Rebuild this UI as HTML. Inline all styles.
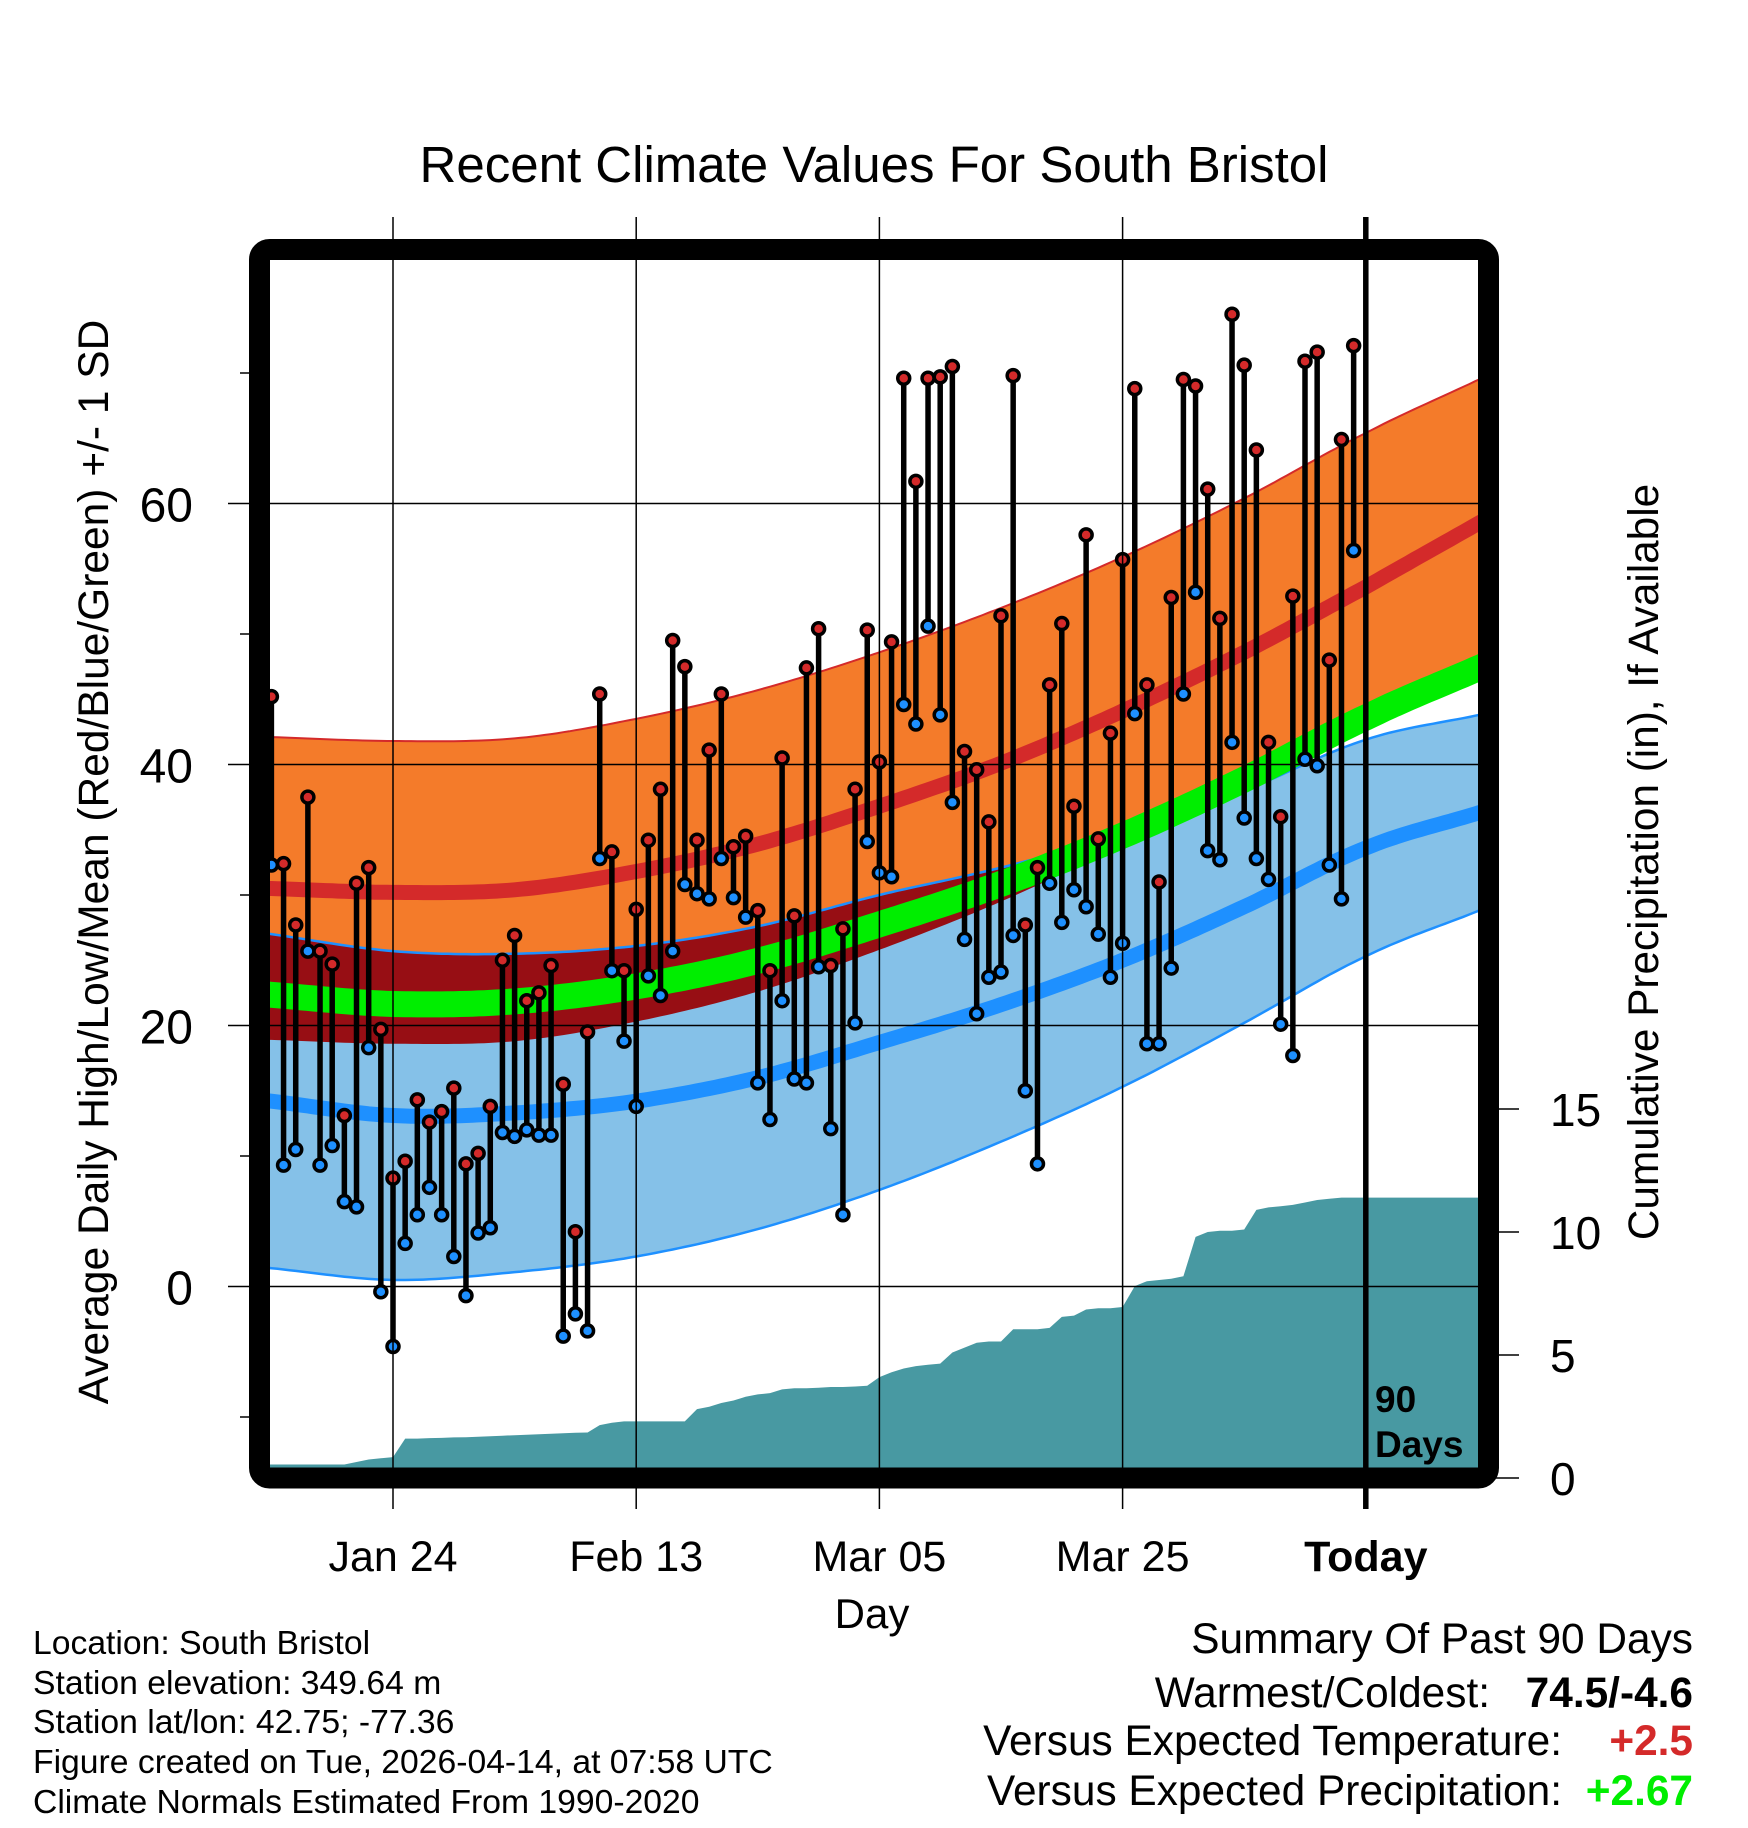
<!DOCTYPE html>
<html><head><meta charset="utf-8"><style>
html,body{margin:0;padding:0;background:#fff;}
svg{display:block;font-family:"Liberation Sans",Arial,sans-serif;}
</style></head><body>
<svg id="chart" width="1748" height="1828" viewBox="0 0 1748 1828" xmlns="http://www.w3.org/2000/svg">
<defs><clipPath id="plotclip"><rect x="270" y="260" width="1208" height="1208"/></clipPath></defs>
<text x="874" y="182" font-size="51" text-anchor="middle">Recent Climate Values For South Bristol</text>
<g id="plot" clip-path="url(#plotclip)"></g>
<g id="overlay"></g>
<text transform="translate(108,862) rotate(-90)" font-size="42.5" text-anchor="middle">Average Daily High/Low/Mean (Red/Blue/Green) +/- 1 SD</text>
<text transform="translate(1658,862) rotate(-90)" font-size="42.3" text-anchor="middle">Cumulative Precipitation (in), If Available</text>
<text x="872" y="1628" font-size="42" text-anchor="middle">Day</text>
<g font-size="33.7">
<text x="33" y="1654">Location: South Bristol</text>
<text x="33" y="1694">Station elevation: 349.64 m</text>
<text x="33" y="1733">Station lat/lon: 42.75; -77.36</text>
<text x="33" y="1773">Figure created on Tue, 2026-04-14, at 07:58 UTC</text>
<text x="33" y="1813">Climate Normals Estimated From 1990-2020</text>
</g>
<g font-size="42.4">
<text x="1693" y="1653" text-anchor="end">Summary Of Past 90 Days</text>
<text x="1490" y="1707" text-anchor="end">Warmest/Coldest:</text>
<text x="1693" y="1707" text-anchor="end" font-weight="bold">74.5/-4.6</text>
<text x="1562" y="1755" text-anchor="end">Versus Expected Temperature:</text>
<text x="1693" y="1755" text-anchor="end" font-weight="bold" fill="#d42a2a">+2.5</text>
<text x="1562" y="1805" text-anchor="end">Versus Expected Precipitation:</text>
<text x="1693" y="1805" text-anchor="end" font-weight="bold" fill="#00ee00">+2.67</text>
</g>
</svg>
<script>
const highs=[45.2,32.4,27.7,37.5,25.7,24.7,13.1,30.9,32.1,19.7,8.3,9.6,14.3,12.6,13.4,15.2,9.4,10.2,13.8,25.0,26.9,21.9,22.5,24.6,15.5,4.2,19.5,45.4,33.3,24.2,28.9,34.2,38.1,49.5,47.5,34.2,41.1,45.4,33.7,34.5,28.8,24.2,40.5,28.4,47.4,50.4,24.6,27.4,38.1,50.3,40.2,49.4,69.6,61.7,69.6,69.7,70.5,41.0,39.6,35.6,51.4,69.8,27.7,32.1,46.1,50.8,36.8,57.6,34.3,42.4,55.7,68.8,46.1,31.0,52.8,69.5,69.0,61.1,51.2,74.5,70.6,64.1,41.7,36.0,52.9,70.9,71.6,48.0,64.9,72.1];
const lows=[32.3,9.3,10.5,25.7,9.3,10.8,6.5,6.1,18.3,-0.4,-4.6,3.3,5.5,7.6,5.5,2.3,-0.7,4.1,4.5,11.8,11.5,12.0,11.6,11.6,-3.8,-2.1,-3.4,32.8,24.2,18.8,13.8,23.8,22.3,25.7,30.8,30.1,29.7,32.8,29.8,28.3,15.6,12.8,21.9,15.9,15.6,24.5,12.1,5.5,20.2,34.1,31.7,31.4,44.6,43.1,50.6,43.8,37.1,26.6,20.9,23.7,24.1,26.9,15.0,9.4,30.9,27.9,30.4,29.1,27.0,23.7,26.3,43.9,18.6,18.6,24.4,45.4,53.2,33.4,32.7,41.7,35.9,32.8,31.2,20.1,17.7,40.4,39.9,32.3,29.7,56.4];
const precip=[0.55,0.55,0.55,0.55,0.55,0.55,0.55,0.65,0.75,0.8,0.85,1.6,1.6,1.62,1.63,1.65,1.66,1.68,1.7,1.72,1.74,1.76,1.78,1.8,1.82,1.84,1.85,2.15,2.25,2.3,2.3,2.3,2.3,2.3,2.3,2.8,2.9,3.05,3.15,3.3,3.4,3.45,3.6,3.65,3.65,3.67,3.7,3.7,3.72,3.75,4.1,4.3,4.45,4.55,4.6,4.65,5.1,5.3,5.5,5.55,5.55,6.05,6.05,6.05,6.1,6.55,6.6,6.85,6.9,6.9,6.95,7.8,8.0,8.05,8.1,8.2,9.8,10.0,10.05,10.05,10.1,10.9,11.0,11.05,11.1,11.2,11.3,11.35,11.4,11.4];
const normDays=[0,10,20,30,40,50,60,70,80,90,99.3];
const highMean=[30.5,30.2,30.4,31.8,33.9,36.8,40.1,44.1,48.6,53.6,58.5];
const highUpper=[42.1,41.8,42.0,43.5,45.7,48.6,52.0,55.9,60.4,65.4,69.5];
const highLower=[18.9,18.6,18.8,20.3,22.6,25.8,29.5,33.9,38.8,44.0,48.3];
const lowMean=[14.2,13.1,13.3,14.2,16.0,18.7,21.6,25.0,29.1,33.6,36.3];
const lowSD=[12.8,12.6,12.2,11.9,11.6,11.3,10.5,9.7,8.9,8.3,7.5];
const yTicks=[0,20,40,60];
const yMinor=[-10,10,30,50,70];
const pTicks=[0,5,10,15];
const xTickDays=[10,30,50,70,90];
const xTickLabels=["Jan 24","Feb 13","Mar 05","Mar 25","Today"];

const NS="http://www.w3.org/2000/svg";
const X=d=>393+(d-10)*12.16;
const Y=t=>1286.5-13.05*t;
const P=p=>1478-24.6*p;
function mk(tag,attrs,parent){const e=document.createElementNS(NS,tag);for(const k in attrs)e.setAttribute(k,attrs[k]);parent.appendChild(e);return e;}
function interp(arr,d){const n=arr.length;
 if(d<=normDays[0]){return arr[0]+(arr[1]-arr[0])*(d-normDays[0])/(normDays[1]-normDays[0]);}
 if(d>=normDays[n-1]){return arr[n-1]+(arr[n-1]-arr[n-2])*(d-normDays[n-1])/(normDays[n-1]-normDays[n-2]);}
 for(let i=0;i<n-1;i++){if(d<=normDays[i+1]){const t=(d-normDays[i])/(normDays[i+1]-normDays[i]);
  const p1=arr[i],p2=arr[i+1];const p0=i>0?arr[i-1]:2*p1-p2;const p3=i+2<n?arr[i+2]:2*p2-p1;
  return 0.5*((2*p1)+(-p0+p2)*t+(2*p0-5*p1+4*p2-p3)*t*t+(-p0+3*p1-3*p2+p3)*t*t*t);}}return arr[n-1];}
const plot=document.getElementById('plot');
const ov=document.getElementById('overlay');
const days=[];for(let d=-1;d<=100;d+=0.5)days.push(d);
const f=v=>v.toFixed(1);
function band(upper,lower,fill,name){let s='';days.forEach((d,i)=>{s+=(i?'L':'M')+f(X(d))+','+f(Y(upper(d)));});for(let i=days.length-1;i>=0;i--){s+='L'+f(X(days[i]))+','+f(Y(lower(days[i])));}s+='Z';const p=mk('path',{d:s,fill:fill},plot);return p;}
function line(fn,stroke,w,name){let s='';days.forEach((d,i)=>{s+=(i?'L':'M')+f(X(d))+','+f(Y(fn(d)));});const p=mk('path',{d:s,fill:'none',stroke:stroke,'stroke-width':w},plot);}
const hm=d=>interp(highMean,d),hu=d=>interp(highUpper,d),hl=d=>interp(highLower,d),lm=d=>interp(lowMean,d),ls=d=>interp(lowSD,d);
band(hu,hl,'#f47b2a','high-sd-band');
band(d=>lm(d)+ls(d),d=>lm(d)-ls(d),'#85c1e8','low-sd-band');
band(d=>Math.max(Math.min(hu(d),lm(d)+ls(d)),hl(d)),hl,'#970e14','overlap-band');
line(hu,'#d42a2a',2,'high-upper-edge');
line(d=>lm(d)+ls(d),'#1e90ff',2.5,'low-upper-edge');
line(d=>lm(d)-ls(d),'#1e90ff',2.5,'low-lower-edge');
line(hm,'#d42a2a',15,'high-mean-line');
line(lm,'#1e90ff',15,'low-mean-line');
line(d=>(hm(d)+lm(d))/2,'#00ee00',26,'mean-line');
let ps='M'+f(X(-1))+',1480L'+f(X(-1))+','+f(P(precip[0]));
precip.forEach((p,i)=>{ps+='L'+f(X(i))+','+f(P(p));});
ps+='L'+f(X(101))+','+f(P(precip[precip.length-1]))+'L'+f(X(101))+',1480Z';
const pa=mk('path',{d:ps,fill:'#4899a2'},plot);


yTicks.forEach(t=>{const g=mk('line',{x1:270,x2:1478,y1:Y(t),y2:Y(t),stroke:'#000','stroke-width':1.5},plot);});
xTickDays.forEach((d,i)=>{if(i<4){const g=mk('line',{x1:X(d),x2:X(d),y1:217,y2:1509,stroke:'#000','stroke-width':1.5},ov);}});
highs.forEach((h,i)=>{const l=lows[i];const s=mk('line',{x1:X(i),x2:X(i),y1:Y(h),y2:Y(l),stroke:'#000','stroke-width':5.5},plot);});
highs.forEach((h,i)=>{const l=lows[i];
 const c1=mk('circle',{cx:X(i),cy:Y(l),r:6,fill:'#1e90ff',stroke:'#000','stroke-width':3.5},plot);
 const c2=mk('circle',{cx:X(i),cy:Y(h),r:6,fill:'#d42a2a',stroke:'#000','stroke-width':3.5},plot);});
const tl=mk('line',{x1:X(90),x2:X(90),y1:217,y2:1509,stroke:'#000','stroke-width':5.5},ov);

const t90=mk('text',{x:1375,y:1412,'font-size':37,'font-weight':'bold'},ov);t90.textContent='90';

const tdy=mk('text',{x:1375,y:1457,'font-size':37,'font-weight':'bold'},ov);tdy.textContent='Days';

const b=mk('rect',{x:259.5,y:249.5,width:1229,height:1228.5,rx:10,fill:'none',stroke:'#000','stroke-width':21},ov);

yTicks.forEach(t=>{const k=mk('line',{x1:228,x2:252,y1:Y(t),y2:Y(t),stroke:'#000','stroke-width':1.5},ov);
 const tx=mk('text',{x:193,y:Y(t)+18,'font-size':48,'text-anchor':'end'},ov);tx.textContent=String(t);});
yMinor.forEach(t=>{const k=mk('line',{x1:240,x2:252,y1:Y(t),y2:Y(t),stroke:'#000','stroke-width':1.5},ov);});
pTicks.forEach(p=>{const k=mk('line',{x1:1496,x2:1519,y1:P(p),y2:P(p),stroke:'#000','stroke-width':1.5},ov);
 const tx=mk('text',{x:1550,y:P(p)+17,'font-size':46},ov);tx.textContent=String(p);});
xTickDays.forEach((d,i)=>{const tx=mk('text',{x:X(d),y:1571,'font-size':43,'text-anchor':'middle'},ov);if(i===4)tx.setAttribute('font-weight','bold');tx.textContent=xTickLabels[i];});
</script>
</body></html>
